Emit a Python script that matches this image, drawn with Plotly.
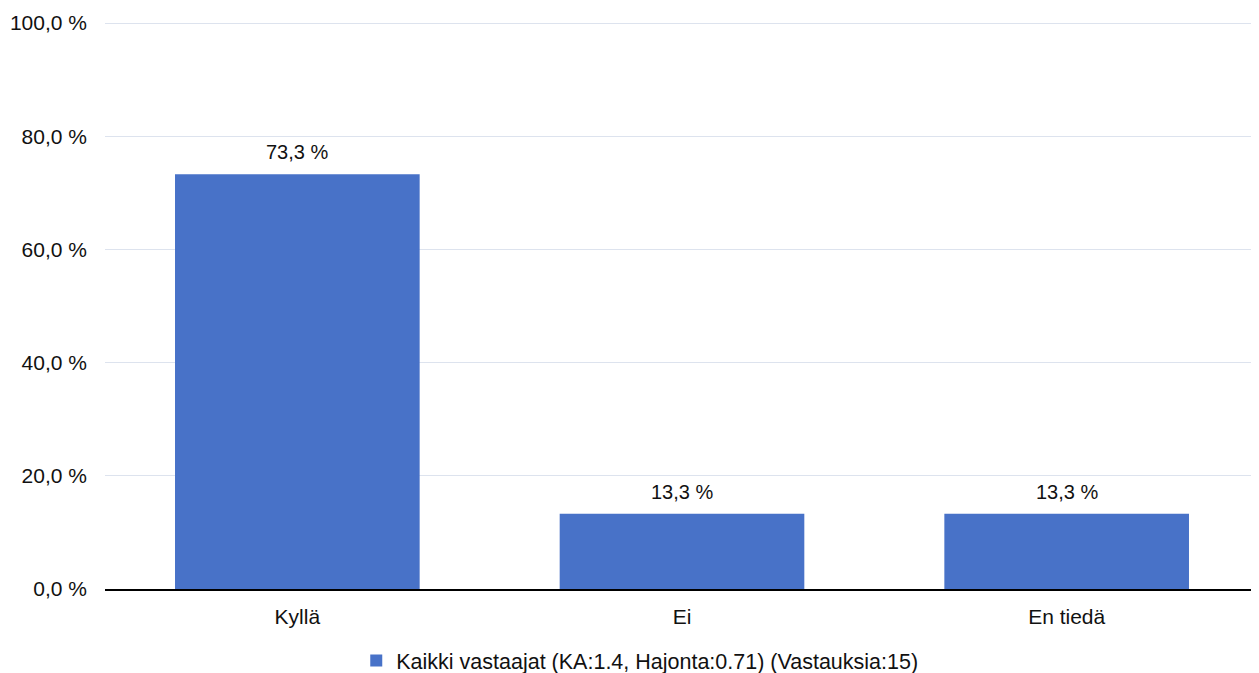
import plotly.graph_objects as go

categories = ["Kyllä", "Ei", "En tiedä"]
values = [73.3, 13.3, 13.3]
series_name = "Kaikki vastaajat (KA:1.4, Hajonta:0.71) (Vastauksia:15)"
tick_vals = [0, 20, 40, 60, 80, 100]
tick_text = [f"{v:.1f} %".replace(".", ",") for v in tick_vals]
label_text = [f"{v:.1f} %".replace(".", ",") for v in values]

fig = go.Figure()
fig.add_trace(go.Bar(
    x=categories, y=values, name=series_name,
    marker=dict(color="#4872c8", line=dict(width=0)),
))

for c, v, t in zip(categories, values, label_text):
    fig.add_annotation(x=c, y=v, text=t, showarrow=False, yanchor="bottom",
                       yshift=9, font=dict(size=20, color="#111111"))

fig.update_layout(
    width=1251, height=673,
    margin=dict(l=97, r=0, t=14, b=92),
    plot_bgcolor="white", paper_bgcolor="white",
    font=dict(family="Liberation Sans, Arial, sans-serif", size=21, color="#111111"),
    bargap=0.364,
    showlegend=True,
    legend=dict(orientation="h", xref="container", x=0.505, xanchor="center",
                yref="container", y=0.0, yanchor="bottom",
                font=dict(size=21.5), itemwidth=30),
    xaxis=dict(showline=True, linecolor="#000000", linewidth=1.5, ticks="",
               tickfont=dict(size=21), ticklabelstandoff=8),
    yaxis=dict(range=[0, 100.2], tickvals=tick_vals, ticktext=tick_text,
               showgrid=True, gridcolor="#dde3ee", gridwidth=1, zeroline=False,
               tickfont=dict(size=21), ticks="", ticklabelstandoff=17),
)

fig.write_html("out.html")
